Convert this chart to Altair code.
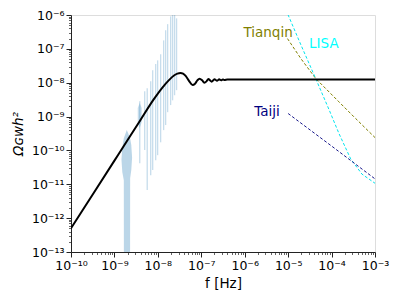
import altair as alt
import pandas as pd

# ---- black curve (log10 f, log10 Omega h^2)
curve_logf = [-10.0, -9.5, -9.0, -8.7, -8.4, -8.1, -7.9, -7.75, -7.62, -7.55, -7.48, -7.42,
              -7.36, -7.28, -7.20, -7.15, -7.09, -7.04, -6.98, -6.93, -6.88, -6.836, -6.80,
              -6.76, -6.725, -6.695, -6.665, -6.638, -6.612, -6.588, -6.566, -6.544, -6.52,
              -6.50, -6.48, -6.466, -6.4, -5.0, -3.0]
curve_logo = [-12.30, -11.30, -10.30, -9.70, -9.10, -8.50, -8.15, -7.93, -7.78, -7.73, -7.71, -7.73,
              -7.80, -7.95, -8.07, -8.04, -7.93, -7.88, -7.93, -8.00, -7.96, -7.89, -7.93,
              -7.97, -7.93, -7.895, -7.92, -7.945, -7.92, -7.90, -7.915, -7.93, -7.915,
              -7.905, -7.915, -7.92, -7.906, -7.906, -7.906]

# ---- shaded blob near 1.7e-9 (log10 f, lower, upper)
blob_a_logf = [-8.837, -8.819, -8.784, -8.782, -8.75, -8.716, -8.681, -8.64, -8.638, -8.612, -8.594]
blob_a_lo = [-10.29, -10.64, -10.88, -13.5, -13.5, -13.5, -13.5, -13.5, -10.82, -10.58, -10.23]
blob_a_hi = [-10.25, -9.93, -9.64, -9.63, -9.52, -9.40, -9.50, -9.64, -9.65, -9.84, -10.20]
# ---- small blob near 3.8e-9
blob_b_logf = [-8.463, -8.417, -8.372]
blob_b_lo = [-9.16, -9.34, -9.16]
blob_b_hi = [-8.75, -8.60, -8.75]

# ---- thin spikes (log10 f, bottom, top)
spike_logf = [-8.417, -8.303, -8.245, -8.165, -8.119, -8.050, -8.005, -7.936, -7.867, -7.821,
              -7.775, -7.706, -7.661, -7.615, -7.569]
spike_lo = [-10.38, -9.99, -11.17, -10.73, -10.58, -10.29, -10.14, -9.76, -9.40, -9.25,
            -8.87, -8.66, -8.52, -8.37, -8.22]
spike_hi = [-8.55, -8.25, -8.16, -7.96, -7.63, -7.45, -7.34, -7.16, -6.75, -6.45,
            -6.27, -6.04, -5.9, -5.9, -6.1]

# ---- detector sensitivities
tq_logf = [-5.016, -4.7, -4.365, -3.83, -3.447, -3.0]
tq_logo = [-6.696, -7.30, -7.876, -8.566, -9.056, -9.62]
lisa_logf = [-5.05, -4.7, -4.365, -4.05, -3.83, -3.56, -3.3, -3.0]
lisa_logo = [-5.85, -6.90, -7.88, -8.82, -9.50, -10.25, -10.70, -10.97]
tj_logf = [-5.0, -4.0, -3.0]
tj_logo = [-8.91, -9.87, -10.84]

det_names = ["Tianqin", "LISA", "Taiji"]
det_colors = ["#808000", "#00e5ee", "#1a1a8c"]
lbl_logf = [-6.03, -4.518, -5.78]
lbl_logo = [-6.54, -6.844, -8.861]
lbl_colors = ["#808000", "#00ffff", "#000080"]

P = lambda v: 10 ** v

curve = pd.DataFrame({"f": [P(v) for v in curve_logf], "o": [P(v) for v in curve_logo],
                      "i": range(len(curve_logf))})
blob_a = pd.DataFrame({"f": [P(v) for v in blob_a_logf], "lo": [P(v) for v in blob_a_lo],
                       "hi": [P(v) for v in blob_a_hi]})
blob_b = pd.DataFrame({"f": [P(v) for v in blob_b_logf], "lo": [P(v) for v in blob_b_lo],
                       "hi": [P(v) for v in blob_b_hi]})
spikes = pd.DataFrame({"f": [P(v) for v in spike_logf], "lo": [P(v) for v in spike_lo],
                       "hi": [P(v) for v in spike_hi]})
det_rows = []
for name, lf, lo in [("Tianqin", tq_logf, tq_logo), ("LISA", lisa_logf, lisa_logo), ("Taiji", tj_logf, tj_logo)]:
    for k, (a, b) in enumerate(zip(lf, lo)):
        det_rows.append({"name": name, "f": P(a), "o": P(b), "i": k})
det = pd.DataFrame(det_rows)
labels = pd.DataFrame({"name": det_names, "f": [P(v) for v in lbl_logf], "o": [P(v) for v in lbl_logo],
                       "c": lbl_colors})

xticks = [m * 10.0 ** e for e in range(-10, -3) for m in range(1, 10)] + [1e-3]
yticks = [m * 10.0 ** e for e in range(-13, -6) for m in range(1, 10)] + [1e-6]

isdec = "abs(log(datum.value)/LN10 - round(log(datum.value)/LN10)) < 0.001"
s = "('' + round(log(datum.value)/LN10))"
sup = {"-": "⁻", "0": "⁰", "1": "¹", "2": "²", "3": "³", "4": "⁴", "5": "⁵", "6": "⁶",
       "7": "⁷", "8": "⁸", "9": "⁹"}
for ch, su in sup.items():
    s = f"replace({s}, regexp('{ch}','g'), '{su}')"
label_expr = f"{isdec} ? '10' + {s} : ''"

FONT = "DejaVu Sans"
tick_size = {"condition": {"test": isdec, "value": 5}, "value": 2.5}
tick_width = {"condition": {"test": isdec, "value": 1}, "value": 0.7}


def axis(title, values, tpad, style="normal"):
    return alt.Axis(title=title, values=values, labelExpr=label_expr, labelOverlap=False,
                    labelFlush=False, grid=False, labelFont=FONT, labelFontSize=12.5,
                    labelColor="black", titleFont=FONT, titleFontSize=13.5,
                    titleFontWeight="normal", titleFontStyle=style, titleColor="black",
                    domainColor="#222", tickColor="#222", tickSize=tick_size,
                    tickWidth=tick_width, labelPadding=2, titlePadding=tpad)


xs = alt.Scale(type="log", domain=[1e-10, 1e-3], nice=False)
ys = alt.Scale(type="log", domain=[1e-13, 1e-6], nice=False)

X = lambda: alt.X("f:Q", scale=xs, axis=axis("f [Hz]", xticks, 5))
Ylo = lambda: alt.Y("lo:Q", scale=ys, stack=None, axis=axis("Ωɢᴡh²", yticks, 6, "italic"))

blob_a_layer = alt.Chart(blob_a).mark_area(color="#1f77b4", opacity=0.3, clip=True).encode(
    x=X(), y=Ylo(), y2="hi:Q")
blob_b_layer = alt.Chart(blob_b).mark_area(color="#1f77b4", opacity=0.25, clip=True).encode(
    x=X(), y=Ylo(), y2="hi:Q")

spike_layer = alt.Chart(spikes).mark_rule(color="#1f77b4", opacity=0.25, strokeWidth=1.3, clip=True).encode(
    x=X(), y=Ylo(), y2="hi:Q")

det_layer = alt.Chart(det).mark_line(strokeWidth=1, strokeDash=[3, 2], clip=True).encode(
    x=X(), y=alt.Y("o:Q", scale=ys), order="i:Q",
    color=alt.Color("name:N", scale=alt.Scale(domain=det_names, range=det_colors), legend=None))

curve_layer = alt.Chart(curve).mark_line(color="black", strokeWidth=2, clip=True,
                                         interpolate="monotone").encode(
    x=X(), y=alt.Y("o:Q", scale=ys), order="i:Q")

text_layer = alt.Chart(labels).mark_text(align="left", baseline="middle", font=FONT,
                                         fontSize=13.5).encode(
    x=X(), y=alt.Y("o:Q", scale=ys), text="name:N", color=alt.Color("c:N", scale=None))

chart = alt.layer(blob_a_layer, blob_b_layer, spike_layer, det_layer, curve_layer, text_layer).properties(
    width=304, height=237,
    autosize=alt.AutoSizeParams(type="none"),
    padding={"left": 63, "top": 7, "right": 15, "bottom": 40},
).configure_view(stroke="#222", strokeWidth=1).configure(background="white")

chart.save("out.html", embed_options={"renderer": "svg", "actions": False})
